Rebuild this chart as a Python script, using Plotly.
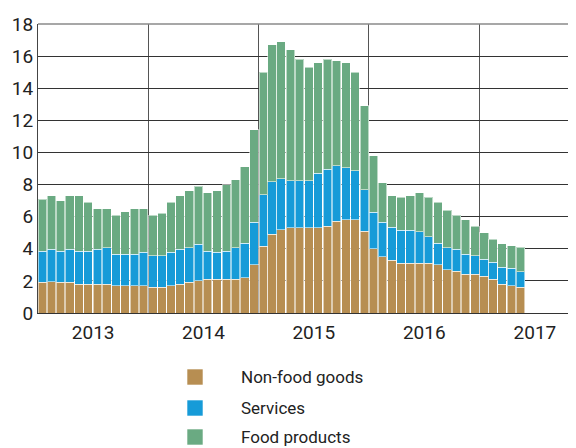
import pandas as pd
import plotly.graph_objects as go

months = pd.date_range("2013-01-01", periods=53, freq="MS")

non_food = [1.9, 1.95, 1.9, 1.9, 1.8, 1.8, 1.8, 1.8, 1.7, 1.7, 1.7, 1.7,
            1.6, 1.6, 1.7, 1.8, 1.9, 2.0, 2.1, 2.1, 2.1, 2.1, 2.2, 3.0,
            4.15, 4.9, 5.2, 5.3, 5.3, 5.3, 5.3, 5.4, 5.7, 5.8, 5.8, 5.1,
            4.0, 3.5, 3.3, 3.1, 3.1, 3.1, 3.1, 3.0, 2.7, 2.6, 2.4, 2.4,
            2.3, 2.1, 1.8, 1.7, 1.6]
services = [1.96, 2.03, 1.96, 2.08, 2.06, 2.06, 2.18, 2.26, 1.95, 1.95, 1.95, 2.07,
            1.97, 1.97, 2.07, 2.18, 2.16, 2.27, 1.76, 1.67, 1.76, 1.96, 2.15, 2.66,
            3.21, 3.27, 3.16, 2.95, 2.95, 2.95, 3.39, 3.56, 3.47, 3.26, 3.06, 2.57,
            2.26, 2.16, 2.05, 2.06, 2.06, 1.96, 1.65, 1.35, 1.36, 1.38, 1.25, 1.17,
            1.06, 1.05, 1.06, 1.08, 0.97]
food = [3.24, 3.32, 3.14, 3.32, 3.44, 3.04, 2.52, 2.44, 2.45, 2.65, 2.85, 2.73,
        2.53, 2.63, 3.13, 3.32, 3.54, 3.63, 3.64, 3.83, 4.14, 4.24, 4.75, 5.74,
        7.64, 8.53, 8.54, 8.15, 7.55, 7.05, 6.91, 6.84, 6.53, 6.54, 6.14, 5.23,
        3.54, 2.44, 1.95, 2.04, 2.14, 2.44, 2.45, 2.55, 2.34, 2.12, 2.15, 1.83,
        1.64, 1.45, 1.44, 1.42, 1.53]

series_names = ["Non-food goods", "Services", "Food products"]
series_colors = ["#B78E52", "#169BD8", "#6AAA82"]
series_values = [non_food, services, food]

FONT = "Roboto, sans-serif"
TXT = "#222222"
OFF = 8  # default page body margin
W, H = 576 - OFF, 448 - OFF
ML, MR, MT, MB = 38 - OFF, 0, 24 - OFF, H - (313 - OFF)

fig = go.Figure()
for name, color, vals in zip(series_names, series_colors, series_values):
    fig.add_trace(go.Bar(
        x=months, y=vals, name=name,
        xperiod="M1", xperiodalignment="middle",
        marker=dict(color=color, line=dict(color="rgba(255,255,255,0.55)", width=1)),
        showlegend=False,
    ))

fig.update_layout(
    width=W, height=H,
    margin=dict(l=ML, r=MR, t=MT, b=MB, pad=0),
    barmode="stack", bargap=0.04,
    plot_bgcolor="white", paper_bgcolor="white",
    font=dict(family=FONT, size=19, color=TXT),
    xaxis=dict(
        type="date", range=["2013-01-01", "2017-11-16"],
        dtick="M12", tick0="2013-01-01", tickformat="%Y",
        ticklabelmode="period", ticks="",
        showgrid=True, gridcolor="#555555", gridwidth=1,
        showline=True, linecolor="#333333", linewidth=1,
        tickfont=dict(family=FONT, size=19, color=TXT),
        ticklabelstandoff=2, automargin=False,
    ),
    yaxis=dict(
        range=[0, 18], dtick=2, ticks="",
        showgrid=True, gridcolor="#333333", gridwidth=1,
        showline=True, linecolor="#444444", linewidth=1,
        zeroline=False,
        tickfont=dict(family=FONT, size=19, color=TXT),
        ticklabelstandoff=0, automargin=False,
    ),
)

# lighter frame line along the top of the plot area
fig.add_shape(type="line", xref="paper", yref="paper", x0=0, x1=1, y0=1, y1=1,
              line=dict(color="#8a8a8a", width=1.5), layer="above")

# manual legend (positions given in page pixels)
plot_h = H - MT - MB
plot_w = W - ML - MR
def px_to_paper(px, py):
    fx, fy = px - OFF, py - OFF
    return (fx - ML) / plot_w, (H - MB - fy) / plot_h

legend_rows = [377, 408, 437]
for name, color, py in zip(series_names, series_colors, legend_rows):
    x0, y0 = px_to_paper(187, py + 8)
    x1, y1 = px_to_paper(203, py - 8)
    fig.add_shape(type="rect", xref="paper", yref="paper",
                  x0=x0, x1=x1, y0=y0, y1=y1,
                  fillcolor=color, line=dict(color="rgba(255,255,255,0.6)", width=1))
    tx, ty = px_to_paper(239, py)
    fig.add_annotation(xref="paper", yref="paper", x=tx, y=ty,
                       xanchor="left", yanchor="middle", text=name,
                       showarrow=False,
                       font=dict(family=FONT, size=17, color=TXT))

fig.write_html("out.html")
